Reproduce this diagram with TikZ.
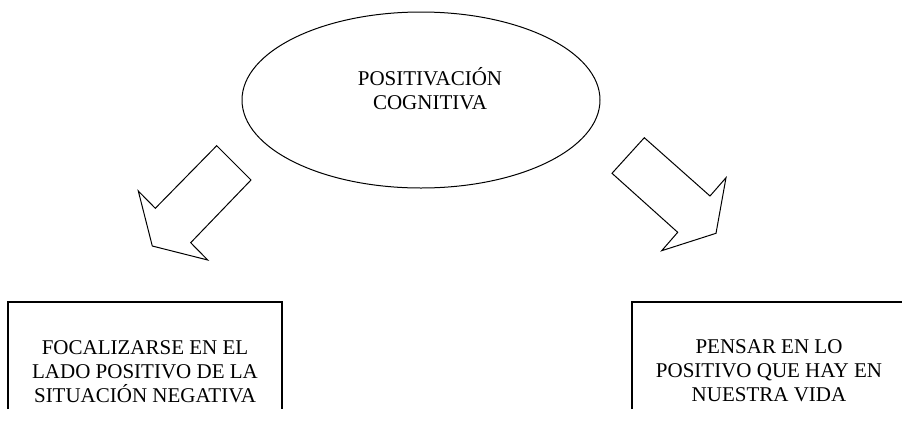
\documentclass[tikz,border=0pt]{standalone}
\usepackage{fontspec}
\setmainfont{Liberation Serif}
\usetikzlibrary{shapes.geometric}
\begin{document}
\begin{tikzpicture}[x=1pt,y=-1pt,
  lbl/.style={font=\fontsize{21}{24}\selectfont, align=center, inner sep=0pt},
  blockarrow/.style={draw, line width=1pt, line join=miter},
  boxside/.style={draw, line width=1.2pt},
  ovalshape/.style={draw, ellipse, line width=1pt, inner sep=0pt}]
\useasboundingbox (0,0) rectangle (902,421);
\node[ovalshape, minimum width=358pt, minimum height=176pt] (oval) at (421,100) {};
\node[lbl] (title) at (430,89) {POSITIVACIÓN\\COGNITIVA};
\draw[blockarrow] (216.7,145.7) -- (251,180) -- (190.7,242.7) -- (207.7,260) -- (152.3,246) -- (138.3,191) -- (155.3,208.3) -- cycle;
\draw[blockarrow] (644.3,137.7) -- (710,196) -- (726,177.7) -- (716,233.3) -- (661.7,250.7) -- (677.7,232.3) -- (612,173.3) -- cycle;
\coordinate (lbl1) at (8,409);
\coordinate (ltl) at (8,302);
\coordinate (ltr) at (282,302);
\coordinate (lbr) at (282,409);
\coordinate (rbl) at (632,409);
\coordinate (rtl) at (632,302);
\coordinate (rtr) at (902,302);
\draw[boxside] (lbl1) -- (ltl) -- (ltr) -- (lbr);
\draw[boxside] (rbl) -- (rtl) -- (rtr);
\node[lbl] (lefttext) at (145,372) {FOCALIZARSE EN EL\\LADO POSITIVO DE LA\\SITUACIÓN NEGATIVA};
\node[lbl] (righttext) at (769,371) {PENSAR EN LO\\POSITIVO QUE HAY EN\\NUESTRA VIDA};
\end{tikzpicture}
\end{document}
